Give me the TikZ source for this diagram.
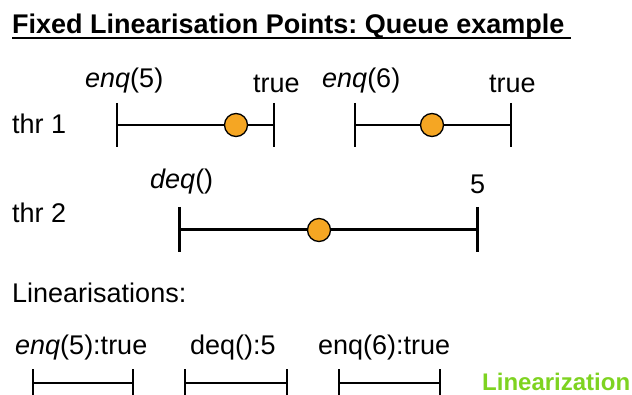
\documentclass[tikz,border=0pt]{standalone}
\usepackage{fontspec}
\setmainfont{Liberation Sans}
\frenchspacing
\definecolor{lpoint}{RGB}{245,166,35}
\definecolor{lgreen}{RGB}{126,211,33}
\tikzset{lin/.style={x=1pt,y=-1pt,font=\fontsize{27}{31}\selectfont},
  txt/.style={anchor=base west,inner sep=0pt},
  span/.style={line width=1.5pt},
  bar/.style={line width=1.8pt},
  lpt/.style={circle,draw,fill=lpoint,line width=1.3pt,minimum size=23pt,inner sep=0pt}}

\begin{document}
\begin{tikzpicture}[lin]
    \useasboundingbox (0,0) rectangle (632,395);
    \node[txt] (title) at (12,34) {\bfseries Fixed Linearisation Points: Queue example};
    \draw[line width=2pt] ([yshift=-4pt]title.base west) -- ([yshift=-4pt,xshift=6pt]title.base east);
    % threads
    \node[txt] (thr1) at (12,134) {thr 1};
    \node[txt] (thr2) at (12,223) {thr 2};
    % thread 1, first call
    \coordinate (s1) at (117,125); \coordinate (e1) at (274,125);
    \draw[bar] (117,103) -- (117,147) (274,103) -- (274,147);
    \node[lpt] (p1) at (236,125) {};
    \draw[span] (s1) -- (p1) -- (e1);
    \node[txt] (c1) at (85,88) {\textit{enq}(5)};
    \node[txt] (r1) at (253,93) {true};
    % thread 1, second call
    \coordinate (s2) at (355,125); \coordinate (e2) at (511,125);
    \draw[bar] (355,103) -- (355,147) (511,103) -- (511,147);
    \node[lpt] (p2) at (432,125) {};
    \draw[span] (s2) -- (p2) -- (e2);
    \node[txt] (c2) at (322,88) {\textit{enq}(6)};
    \node[txt] (r2) at (489,93) {true};
    % thread 2
    \coordinate (s3) at (179,230); \coordinate (e3) at (477,230);
    \draw[line width=3pt] (179,207) -- (179,252) (477,207) -- (477,252);
    \node[lpt] (p3) at (319,230) {};
    \draw[line width=3pt] (s3) -- (p3) -- (e3);
    \node[txt] (c3) at (150,189) {\textit{deq}()};
    \node[txt] (r3) at (470,194) {5};
    % linearisation
    \node[txt] (lins) at (12,303) {Linearisations:};
    \node[txt] (l1) at (15,355) {\textit{enq}(5):true};
    \node[txt] (l2) at (190,355) {deq():5};
    \node[txt] (l3) at (318,355) {enq(6):true};
    \foreach \a/\b [count=\i] in {33/133,185/287,339/440} {
      \coordinate (ls\i) at (\a,383); \coordinate (le\i) at (\b,383);
      \draw[span] (\a,369) -- (\a,397) (\b,369) -- (\b,397);
      \draw[span] (ls\i) -- (le\i);
    }
    \node[txt,text=lgreen,font=\fontsize{24}{28}\selectfont\bfseries] (lz) at (482,390) {Linearization};
\end{tikzpicture}
\end{document}
